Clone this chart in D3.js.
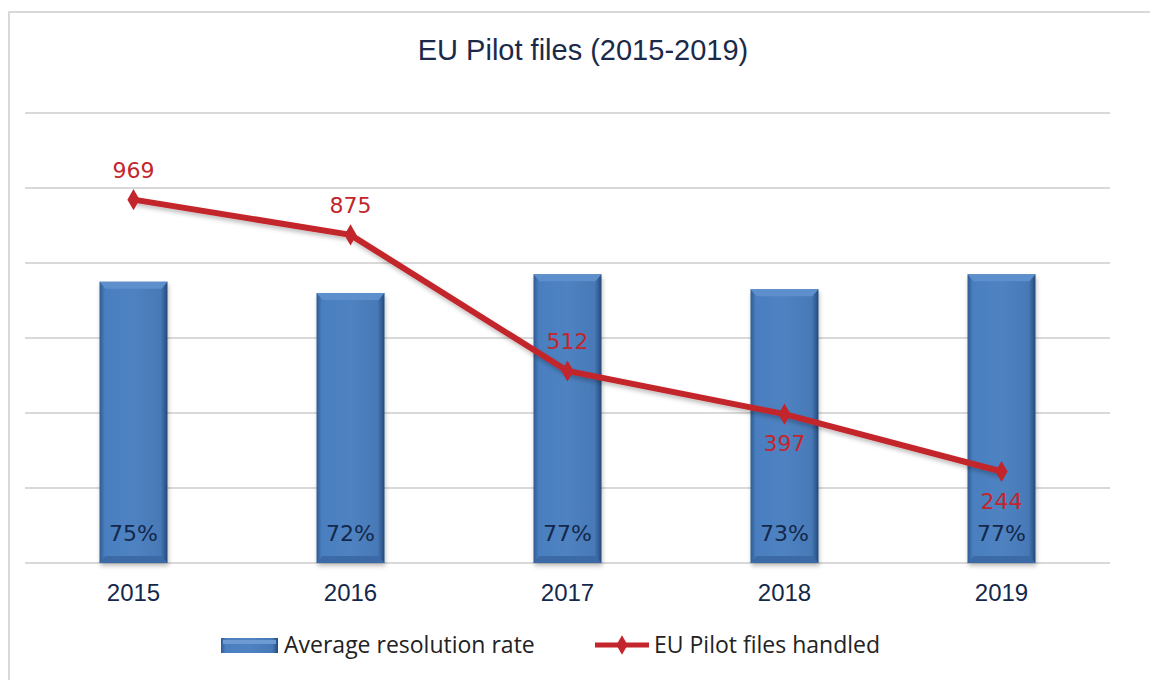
<!DOCTYPE html>
<html>
<head>
<meta charset="utf-8">
<script src="https://cdn.jsdelivr.net/npm/d3@7"></script>
<style>
  body { margin: 0; background: #fff; }
  svg { display: block; }
</style>
</head>
<body>
<div id="chart"></div>
<script>
// chart data
const years = ["2015", "2016", "2017", "2018", "2019"];
const resolutionRate = [75, 72, 77, 73, 77];   // %
const filesHandled = [969, 875, 512, 397, 244];
const rateTicks = [0, 20, 40, 60, 80, 100, 120];
const seriesNames = ["Average resolution rate", "EU Pilot files handled"];

const width = 1150;
const height = 680;
const margin = { top: 113, right: 40, bottom: 117, left: 25 };

const svg = d3.select("#chart")
    .append("svg")
    .attr("width", width)
    .attr("height", height);

const defs = svg.append("defs");

// bar gradient, darker towards the sides
const barGrad = defs.append("linearGradient")
    .attr("id", "barGrad")
    .attr("x1", "0").attr("x2", "1").attr("y1", "0").attr("y2", "0");
barGrad.append("stop").attr("offset", "0%").attr("stop-color", "#2f5b94");
barGrad.append("stop").attr("offset", "8%").attr("stop-color", "#4a7fc0");
barGrad.append("stop").attr("offset", "50%").attr("stop-color", "#4f82c1");
barGrad.append("stop").attr("offset", "90%").attr("stop-color", "#4779b6");
barGrad.append("stop").attr("offset", "100%").attr("stop-color", "#24497a");

const shadow = defs.append("filter").attr("id", "shadow")
    .attr("x", "-10%").attr("y", "-10%").attr("width", "120%").attr("height", "140%");
shadow.append("feDropShadow")
    .attr("dx", 1).attr("dy", 3).attr("stdDeviation", 2)
    .attr("flood-color", "#000").attr("flood-opacity", 0.25);

// outer frame
svg.append("rect")
    .attr("x", 9).attr("y", 12)
    .attr("width", width + 20).attr("height", height + 20)
    .attr("fill", "none")
    .attr("stroke", "#d9d9d9")
    .attr("stroke-width", 2);

// title
svg.append("text")
    .attr("x", 583)
    .attr("y", 60)
    .attr("text-anchor", "middle")
    .style("font-family", "'Liberation Sans', Arial, sans-serif")
    .style("font-size", "29px")
    .attr("fill", "#1b2a4a")
    .text("EU Pilot files (2015-2019)");

// scales
const xScale = d3.scaleBand()
    .domain(years)
    .range([margin.left, width - margin.right]);

const yRate = d3.scaleLinear()
    .domain([0, 120])
    .range([height - margin.bottom, margin.top]);

const yFiles = d3.scaleLinear()
    .domain([0, 1200])
    .range([height - margin.bottom, margin.top]);

// gridlines
svg.append("g")
    .selectAll("line")
    .data(rateTicks)
    .enter()
    .append("line")
    .attr("x1", margin.left)
    .attr("x2", width - margin.right)
    .attr("y1", d => yRate(d))
    .attr("y2", d => yRate(d))
    .attr("stroke", "#d9d9d9")
    .attr("stroke-width", 2);

// bars
const barW = 68;
const bars = svg.append("g").selectAll("g")
    .data(years)
    .enter()
    .append("g");

bars.append("rect")
    .attr("x", d => xScale(d) + xScale.bandwidth() / 2 - barW / 2)
    .attr("y", (d, i) => yRate(resolutionRate[i]))
    .attr("width", barW)
    .attr("height", (d, i) => yRate(0) - yRate(resolutionRate[i]))
    .attr("fill", "url(#barGrad)")
    .attr("filter", "url(#shadow)");

// top bevel
bars.append("path")
    .attr("d", (d, i) => {
        const x0 = xScale(d) + xScale.bandwidth() / 2 - barW / 2;
        const y0 = yRate(resolutionRate[i]);
        return `M${x0},${y0}L${x0 + barW},${y0}L${x0 + barW - 6},${y0 + 7}L${x0 + 6},${y0 + 7}Z`;
    })
    .attr("fill", "#5c8fcc");

// bottom bevel
bars.append("path")
    .attr("d", d => {
        const x0 = xScale(d) + xScale.bandwidth() / 2 - barW / 2;
        const y0 = yRate(0);
        return `M${x0},${y0}L${x0 + barW},${y0}L${x0 + barW - 6},${y0 - 7}L${x0 + 6},${y0 - 7}Z`;
    })
    .attr("fill", "#3b6aa6");

// percentage labels inside bars
bars.append("text")
    .attr("x", d => xScale(d) + xScale.bandwidth() / 2)
    .attr("y", 541)
    .attr("text-anchor", "middle")
    .style("font-family", "'DejaVu Sans', Verdana, sans-serif")
    .style("font-size", "22px")
    .attr("fill", "#14284b")
    .text((d, i) => resolutionRate[i] + "%");

// line
const line = d3.line()
    .x((d, i) => xScale(years[i]) + xScale.bandwidth() / 2)
    .y(d => yFiles(d));

svg.append("path")
    .datum(filesHandled)
    .attr("d", line)
    .attr("fill", "none")
    .attr("stroke", "#c3252c")
    .attr("stroke-width", 6)
    .attr("filter", "url(#shadow)");

svg.append("g").selectAll("path")
    .data(filesHandled)
    .enter()
    .append("path")
    .attr("transform", (d, i) => `translate(${xScale(years[i]) + xScale.bandwidth() / 2},${yFiles(d)})`)
    .attr("d", d3.symbol(d3.symbolDiamond, 130))
    .attr("fill", "#c3252c");

// line value labels (first three above, last two below)
svg.append("g").selectAll("text")
    .data(filesHandled)
    .enter()
    .append("text")
    .attr("x", (d, i) => xScale(years[i]) + xScale.bandwidth() / 2)
    .attr("y", (d, i) => i < 3 ? yFiles(d) - 22 : yFiles(d) + 37)
    .attr("text-anchor", "middle")
    .style("font-family", "'DejaVu Sans', Verdana, sans-serif")
    .style("font-size", "22px")
    .attr("fill", "#c3252c")
    .text(d => d);

// x axis labels
svg.append("g")
    .attr("transform", `translate(0,${height - margin.bottom})`)
    .call(d3.axisBottom(xScale).tickSize(0).tickPadding(21))
    .call(g => g.select(".domain").remove())
    .selectAll("text")
    .style("font-family", "'Liberation Sans', Arial, sans-serif")
    .style("font-size", "24px")
    .attr("fill", "#14284b");

// legend
const legend = svg.append("g")
    .style("font-family", "'Open Sans', sans-serif")
    .style("font-size", "23px")
    .attr("fill", "#222");
legend.append("rect")
    .attr("x", 221).attr("y", 638)
    .attr("width", 57).attr("height", 15)
    .attr("fill", "url(#barGrad)");
legend.append("rect")
    .attr("x", 223).attr("y", 640)
    .attr("width", 53).attr("height", 4)
    .attr("fill", "#6d9ad2");
legend.append("text")
    .attr("x", 284).attr("y", 653)
    .text(seriesNames[0]);

legend.append("line")
    .attr("x1", 595).attr("x2", 649)
    .attr("y1", 645).attr("y2", 645)
    .attr("stroke", "#c3252c")
    .attr("stroke-width", 5);
legend.append("path")
    .attr("transform", "translate(622,645)")
    .attr("d", d3.symbol(d3.symbolDiamond, 110))
    .attr("fill", "#c3252c");
legend.append("text")
    .attr("x", 654).attr("y", 653)
    .text(seriesNames[1]);
</script>
</body>
</html>
